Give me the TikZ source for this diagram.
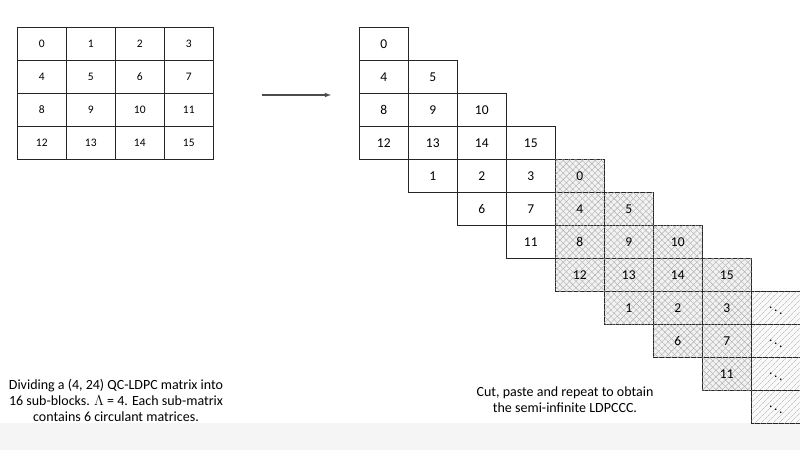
\documentclass[tikz,border=0pt]{standalone}
\usepackage{fontspec}
\setmainfont{Carlito}
\usetikzlibrary{patterns.meta}
\begin{document}
\begin{tikzpicture}[x=1pt,y=-1pt,
  cell/.style={draw=black!85,line width=0.6pt,minimum width=49pt,minimum height=33pt,anchor=north west,inner sep=0pt,font=\fontsize{13.5}{15}\selectfont},
  lcell/.style={cell,font=\fontsize{11.5}{13}\selectfont},
  hcell/.style={cell,fill=gray!10,postaction={pattern={Lines[angle=45,distance=4.5pt,line width=0.4pt]},pattern color=gray!65},postaction={pattern={Lines[angle=-45,distance=4.5pt,line width=0.4pt]},pattern color=gray!65}},
  dcell/.style={cell,fill=gray!5,postaction={pattern={Lines[angle=45,distance=4pt,line width=0.4pt]},pattern color=gray!65}},
  captext/.style={align=center,font=\fontsize{14}{16}\selectfont}]
\useasboundingbox (0,0) rectangle (800,450);
\fill[gray!8] (0,423) rectangle (800,450);
% left grid
\foreach \r in {0,...,3}{\foreach \c in {0,...,3}{
  \pgfmathtruncatemacro{\v}{4*\r+\c}
  \node[lcell] (L\v) at ({17+49*\c},{27+33*\r}) {\v};}}
% arrow
\coordinate (a1) at (262,95); \coordinate (a2) at (331,95);
\draw[-latex,line width=1.1pt,black!70] (a1) -- (a2);
% right plain
\foreach \r/\c/\v in {0/0/0,1/0/4,1/1/5,2/0/8,2/1/9,2/2/10,3/0/12,3/1/13,3/2/14,3/3/15,4/1/1,4/2/2,4/3/3,5/2/6,5/3/7,6/3/11}{
  \node[cell] (P\r-\c) at ({359+49*\c},{27+33*\r}) {\v};}
% hatched
\foreach \r/\c/\v in {4/4/0,5/4/4,5/5/5,6/4/8,6/5/9,6/6/10,7/4/12,7/5/13,7/6/14,7/7/15,8/5/1,8/6/2,8/7/3,9/6/6,9/7/7,10/7/11}{
  \node[hcell] (H\r-\c) at ({359+49*\c},{27+33*\r}) {\v};}
\foreach \r in {8,...,11}{
  \node[dcell] (D\r) at (751,{27+33*\r}) {$\ddots$};}
\node[captext] (capL) at (116,400) {Dividing a (4, 24) QC-LDPC matrix into\\16 sub-blocks. $\Lambda$ = 4. Each sub-matrix\\contains 6 circulant matrices.};
\node[captext] (capR) at (565,400) {Cut, paste and repeat to obtain\\the semi-infinite LDPCCC.};
\end{tikzpicture}
\end{document}
